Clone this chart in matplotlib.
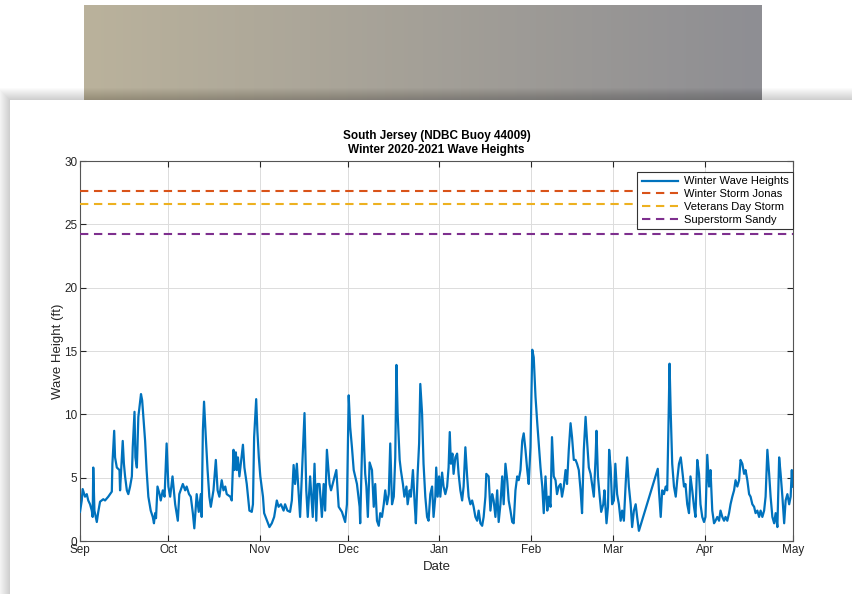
"""
Winter 2020-2021 wave heights, South Jersey (NDBC Buoy 44009)
"""

import numpy as np
import matplotlib
matplotlib.use('Agg')
import matplotlib.pyplot as plt
import matplotlib.dates as mdates
from matplotlib.patches import Rectangle

plt.rcParams['font.family'] = ['Liberation Sans', 'DejaVu Sans']

# Dados: dias desde 1 set 2020 e altura em pés
wave_days = [
    0.0, 0.6, 0.9, 1.7, 2.3, 2.8, 3.4, 4.0, 4.3, 4.5, 4.9, 5.7, 6.2, 6.8, 7.9, 8.5, 9.6, 10.2, 10.8,
    11.0, 11.6, 11.9, 12.5, 13.4, 13.6, 14.5, 14.9, 15.3, 15.9, 16.4, 17.0, 17.6, 17.9, 18.5, 18.8,
    19.3, 19.8, 20.7, 21.1, 21.5, 22.1, 22.6, 23.2, 24.0, 24.7, 25.1, 25.5, 25.8, 26.3, 27.0, 27.4,
    28.1, 28.7, 29.4, 30.0, 30.6, 31.4, 32.3, 33.2, 33.7, 34.9, 35.7, 36.2, 37.0, 37.6, 38.3, 38.8,
    39.6, 40.3, 41.0, 41.3, 41.7, 42.1, 42.7, 43.3, 43.9, 44.4, 45.3, 46.1, 46.7, 47.3, 48.1, 48.7,
    49.3, 49.8, 51.0, 51.5, 52.1, 52.4, 52.9, 53.2, 53.6, 54.1, 55.3, 55.8, 56.6, 57.5, 58.3, 58.7,
    59.1, 59.8, 60.2, 60.7, 61.2, 62.1, 62.5, 64.3, 65.1, 65.9, 66.8, 67.4, 68.2, 69.1, 69.6, 70.4,
    71.3, 71.9, 72.5, 73.0, 73.6, 74.7, 76.2, 76.8, 77.3, 78.1, 79.0, 79.6, 80.2, 80.6, 81.3, 82.1,
    82.7, 83.2, 83.8, 84.7, 85.2, 87.0, 87.8, 88.9, 90.0, 90.6, 91.2, 91.7, 92.3, 92.9, 94.0, 94.9,
    95.1, 96.0, 96.8, 97.2, 97.7, 98.3, 99.1, 99.7, 100.2, 100.8, 101.4, 101.9, 102.5, 103.1, 103.6,
    104.2, 104.8, 105.3, 105.9, 106.5, 107.0, 107.4, 107.8, 108.5, 108.9, 109.6, 110.1, 110.8, 111.2,
    111.9, 112.3, 113.0, 113.6, 114.0, 114.6, 115.1, 115.5, 116.1, 116.6, 117.2, 117.8, 118.3, 118.9,
    119.5, 120.0, 120.6, 120.9, 121.4, 121.9, 122.3, 122.9, 123.4, 124.0, 124.6, 125.1, 125.5, 125.9,
    126.4, 126.8, 127.4, 128.0, 128.5, 129.1, 129.7, 130.2, 130.8, 131.4, 131.9, 132.5, 133.1, 133.6,
    134.2, 134.8, 135.3, 135.9, 136.5, 137.0, 137.6, 137.9, 138.7, 139.3, 139.9, 140.4, 141.0, 141.6,
    142.1, 142.7, 143.3, 143.8, 144.4, 145.0, 145.5, 146.1, 146.7, 147.2, 147.8, 148.4, 148.9, 149.5,
    150.1, 150.6, 151.2, 151.8, 152.3, 152.9, 153.5, 154.0, 154.6, 155.2, 155.7, 156.3, 156.9, 157.4,
    158.0, 158.6, 159.1, 159.7, 160.2, 160.8, 161.4, 161.9, 162.5, 163.1, 163.6, 164.2, 164.8, 165.3,
    165.9, 166.5, 167.0, 167.6, 168.2, 168.7, 169.3, 169.9, 170.4, 171.0, 171.6, 172.1, 172.7, 173.3,
    173.8, 174.4, 175.0, 175.3, 175.8, 176.4, 176.9, 177.6, 178.0, 178.7, 179.2, 179.6, 180.1, 180.6,
    181.2, 181.7, 182.3, 182.9, 183.5, 184.0, 184.6, 185.2, 185.7, 186.3, 186.9, 187.4, 188.0, 188.6,
    189.1, 189.7, 196.1, 196.5, 197.1, 197.6, 198.2, 198.8, 199.3, 199.7, 200.1, 200.5, 201.0, 201.6,
    202.2, 202.7, 203.3, 203.9, 204.4, 205.0, 205.5, 206.1, 206.7, 207.2, 207.8, 208.4, 208.9, 209.5,
    210.1, 210.6, 211.2, 211.8, 212.3, 212.9, 213.5, 214.0, 214.6, 215.2, 215.7, 216.3, 216.9, 217.4,
    218.0, 218.6, 219.1, 219.7, 220.3, 220.8, 221.4, 222.0, 222.5, 223.1, 223.7, 224.2, 224.8, 225.4,
    225.9, 226.5, 227.1, 227.6, 228.2, 228.8, 229.3, 229.9, 230.5, 231.0, 231.6, 232.2, 232.7, 233.3,
    233.9, 234.4, 235.0, 235.6, 236.1, 236.7, 237.3, 237.8, 238.4, 239.0, 239.5, 240.1, 240.7, 241.2,
    241.6, 241.8, 242.0,
]
wave_ft = [
    2.3, 3.2, 4.1, 3.5, 3.7, 3.2, 2.9, 2.4, 1.9, 5.8, 2.4, 1.5, 2.3, 3.1, 3.3, 3.2, 3.5, 3.7, 3.9,
    6.1, 8.7, 6.6, 5.8, 5.6, 4.0, 7.9, 6.1, 5.1, 4.0, 3.7, 4.3, 5.1, 7.4, 10.2, 6.6,
    5.8, 9.8, 11.6, 11.1, 9.8, 7.9, 5.6, 3.5, 2.4, 1.9, 1.4, 2.2, 1.8, 4.3, 3.7, 3.2,
    4.0, 3.5, 7.7, 4.3, 3.5, 5.1, 2.9, 1.6, 3.7, 4.5, 4.0, 4.3, 3.7, 3.5, 2.2, 1.0,
    3.7, 2.3, 3.7, 1.9, 8.7, 11.0, 8.2, 5.6, 3.5, 2.7, 4.0, 6.4, 4.0, 3.5, 4.8, 4.0,
    4.3, 3.7, 3.5, 3.2, 7.2, 5.6, 7.0, 5.6, 6.6, 5.1, 7.6, 5.8, 4.5, 2.4, 2.3, 2.9,
    8.2, 11.2, 8.7, 6.6, 5.1, 3.5, 2.2, 1.1, 1.4, 1.9, 3.2, 2.7, 2.9, 2.4, 2.9, 2.4,
    2.3, 3.2, 6.0, 4.5, 6.1, 1.9, 10.1, 4.0, 1.9, 5.1, 1.9, 6.1, 1.6, 4.5, 4.5, 1.9,
    4.5, 2.4, 7.2, 4.5, 4.0, 5.6, 2.7, 2.3, 1.5, 2.9, 11.5, 9.0, 7.4, 5.6, 4.5, 2.7,
    1.4, 9.9, 5.3, 4.3, 1.9, 6.2, 5.6, 2.7, 4.5, 1.6, 1.2, 2.2, 1.9, 2.9, 4.0,
    2.9, 3.7, 7.7, 2.9, 3.5, 6.6, 13.9, 10.1, 6.4, 5.6, 4.5, 3.5, 4.3, 2.9,
    4.0, 3.5, 5.6, 2.9, 1.4, 5.3, 7.7, 12.4, 10.1, 6.1, 3.5, 1.9, 1.6, 3.7,
    4.3, 1.9, 3.5, 5.8, 3.5, 5.1, 3.5, 5.4, 4.3, 3.7, 4.3, 5.8, 8.6, 6.1,
    6.9, 5.3, 6.6, 6.9, 5.3, 4.0, 3.2, 4.3, 7.4, 5.1, 3.5, 2.9, 3.2, 2.7,
    1.9, 1.6, 2.4, 1.4, 1.2, 1.9, 3.5, 5.3, 5.1, 2.4, 3.7, 3.2, 1.9, 4.0,
    1.5, 2.9, 5.1, 2.9, 6.1, 4.8, 3.2, 2.4, 1.5, 1.4, 4.0, 5.1, 4.8, 5.6,
    7.9, 8.5, 7.2, 5.6, 4.5, 7.4, 15.1, 14.5, 11.4, 9.3, 7.7, 5.8, 4.3, 2.2,
    5.1, 2.4, 3.5, 2.7, 8.2, 5.1, 4.8, 3.7, 4.3, 4.5, 3.5, 4.3, 5.6, 4.5,
    7.2, 9.3, 8.2, 6.4, 6.4, 6.1, 5.6, 4.0, 2.2, 7.2, 9.8, 7.9, 5.8, 5.3,
    4.5, 3.5, 6.6, 8.7, 5.1, 3.5, 2.3, 2.9, 4.0, 1.4, 2.7, 7.2, 5.8, 2.9,
    3.2, 6.1, 3.7, 2.9, 1.6, 2.4, 1.6, 4.5, 6.6, 4.3, 2.9, 1.1, 2.4, 2.9,
    1.9, 0.8, 5.7, 4.0, 1.9, 4.0, 3.7, 4.3, 4.0, 8.7, 14.0, 10.1, 6.1, 4.3,
    3.5, 4.8, 6.1, 6.6, 5.6, 4.3, 4.5, 2.9, 2.2, 5.1, 4.0, 2.7, 1.9, 6.4,
    5.3, 2.9, 1.9, 1.5, 1.9, 6.8, 4.3, 5.6, 2.4, 1.4, 1.6, 1.9, 1.6, 2.4,
    1.9, 1.6, 1.9, 1.6, 2.2, 2.9, 3.5, 4.0, 4.8, 4.3, 4.8, 6.4, 6.1, 5.3,
    5.6, 4.8, 3.7, 3.5, 2.9, 2.7, 2.2, 2.4, 1.9, 2.4, 1.9, 2.4, 3.5, 7.2,
    5.3, 3.5, 1.9, 1.4, 2.2, 1.1, 6.6, 5.3, 3.5, 1.4, 3.2, 3.7, 2.9, 3.5,
    5.6, 4.5, 4.3,
]

storm_names = ['Winter Storm Jonas', 'Veterans Day Storm', 'Superstorm Sandy']
storm_ft = [27.6, 26.6, 24.2]
storm_colors = ['#D95319', '#EDB120', '#7E2F8E']

start_date = np.datetime64('2020-09-01')
end_date = np.datetime64('2021-05-01')

W, H = 853, 594
fig = plt.figure(figsize=(W / 100, H / 100), dpi=100)
fig.patch.set_facecolor('white')

# Fundo da página (faixa em degradê + cartão branco com sombra)
bg = fig.add_axes([0, 0, 1, 1], zorder=-10)
bg.set_xlim(0, W)
bg.set_ylim(H, 0)
bg.axis('off')

left_c = np.array([186, 178, 156]) / 255
right_c = np.array([142, 142, 147]) / 255
t = np.linspace(0, 1, 256)
grad = left_c[None, :] * (1 - t[:, None]) + right_c[None, :] * t[:, None]
grad = np.repeat(grad[None, :, :], 2, axis=0)
bg.imshow(grad, extent=(84, 762, 102, 5), aspect='auto', interpolation='bilinear', zorder=0)

# sombra do cartão
for k in range(12):
    off = 12 - k
    bg.add_patch(Rectangle((10 - off, 100 - off), W + 20, H, facecolor='black',
                           alpha=0.016, edgecolor='none', zorder=1))
bg.add_patch(Rectangle((10, 100), W, H, facecolor='white', edgecolor='none', zorder=2))

# Gráfico principal
ax = fig.add_axes([80 / W, 1 - 541 / H, 713 / W, 380 / H])

dates = start_date + (np.array(wave_days) * 86400).astype('timedelta64[s]')
ax.plot(dates, wave_ft, color='#0072BD', linewidth=1.6, label='Winter Wave Heights', zorder=3)

for name, val, col in zip(storm_names, storm_ft, storm_colors):
    ax.axhline(val, color=col, linestyle=(0, (4, 2.7)), linewidth=1.5, label=name, zorder=3)

ax.set_xlim(start_date, end_date)
ax.set_ylim(0, 30)
ax.set_yticks(np.arange(0, 31, 5))
ax.xaxis.set_major_locator(mdates.MonthLocator())
ax.xaxis.set_major_formatter(mdates.DateFormatter('%b'))

ax.grid(True, color='#DCDCDC', linewidth=0.7)
ax.set_axisbelow(True)
ax.tick_params(direction='in', length=4, width=0.8, colors='#262626', labelsize=8.5,
               top=True, right=True, pad=2)
for sp in ax.spines.values():
    sp.set_color('#555555')
    sp.set_linewidth(0.8)

ax.set_xlabel('Date', fontsize=9.5, color='#262626', labelpad=4)
ax.set_ylabel('Wave Height (ft)', fontsize=9.5, color='#262626', labelpad=0)
ax.set_title('South Jersey (NDBC Buoy 44009)\nWinter 2020-2021 Wave Heights',
             fontsize=8.5, fontweight='bold', linespacing=1.15, pad=6)

leg = ax.legend(loc='upper right', fontsize=8, handlelength=3.3, handletextpad=0.5,
                borderpad=0.4, labelspacing=0.25, fancybox=False, framealpha=1,
                edgecolor='#333333', borderaxespad=0, bbox_to_anchor=(1.0, 0.971))
leg.get_frame().set_linewidth(0.8)

fig.savefig('out.png', dpi=100)
